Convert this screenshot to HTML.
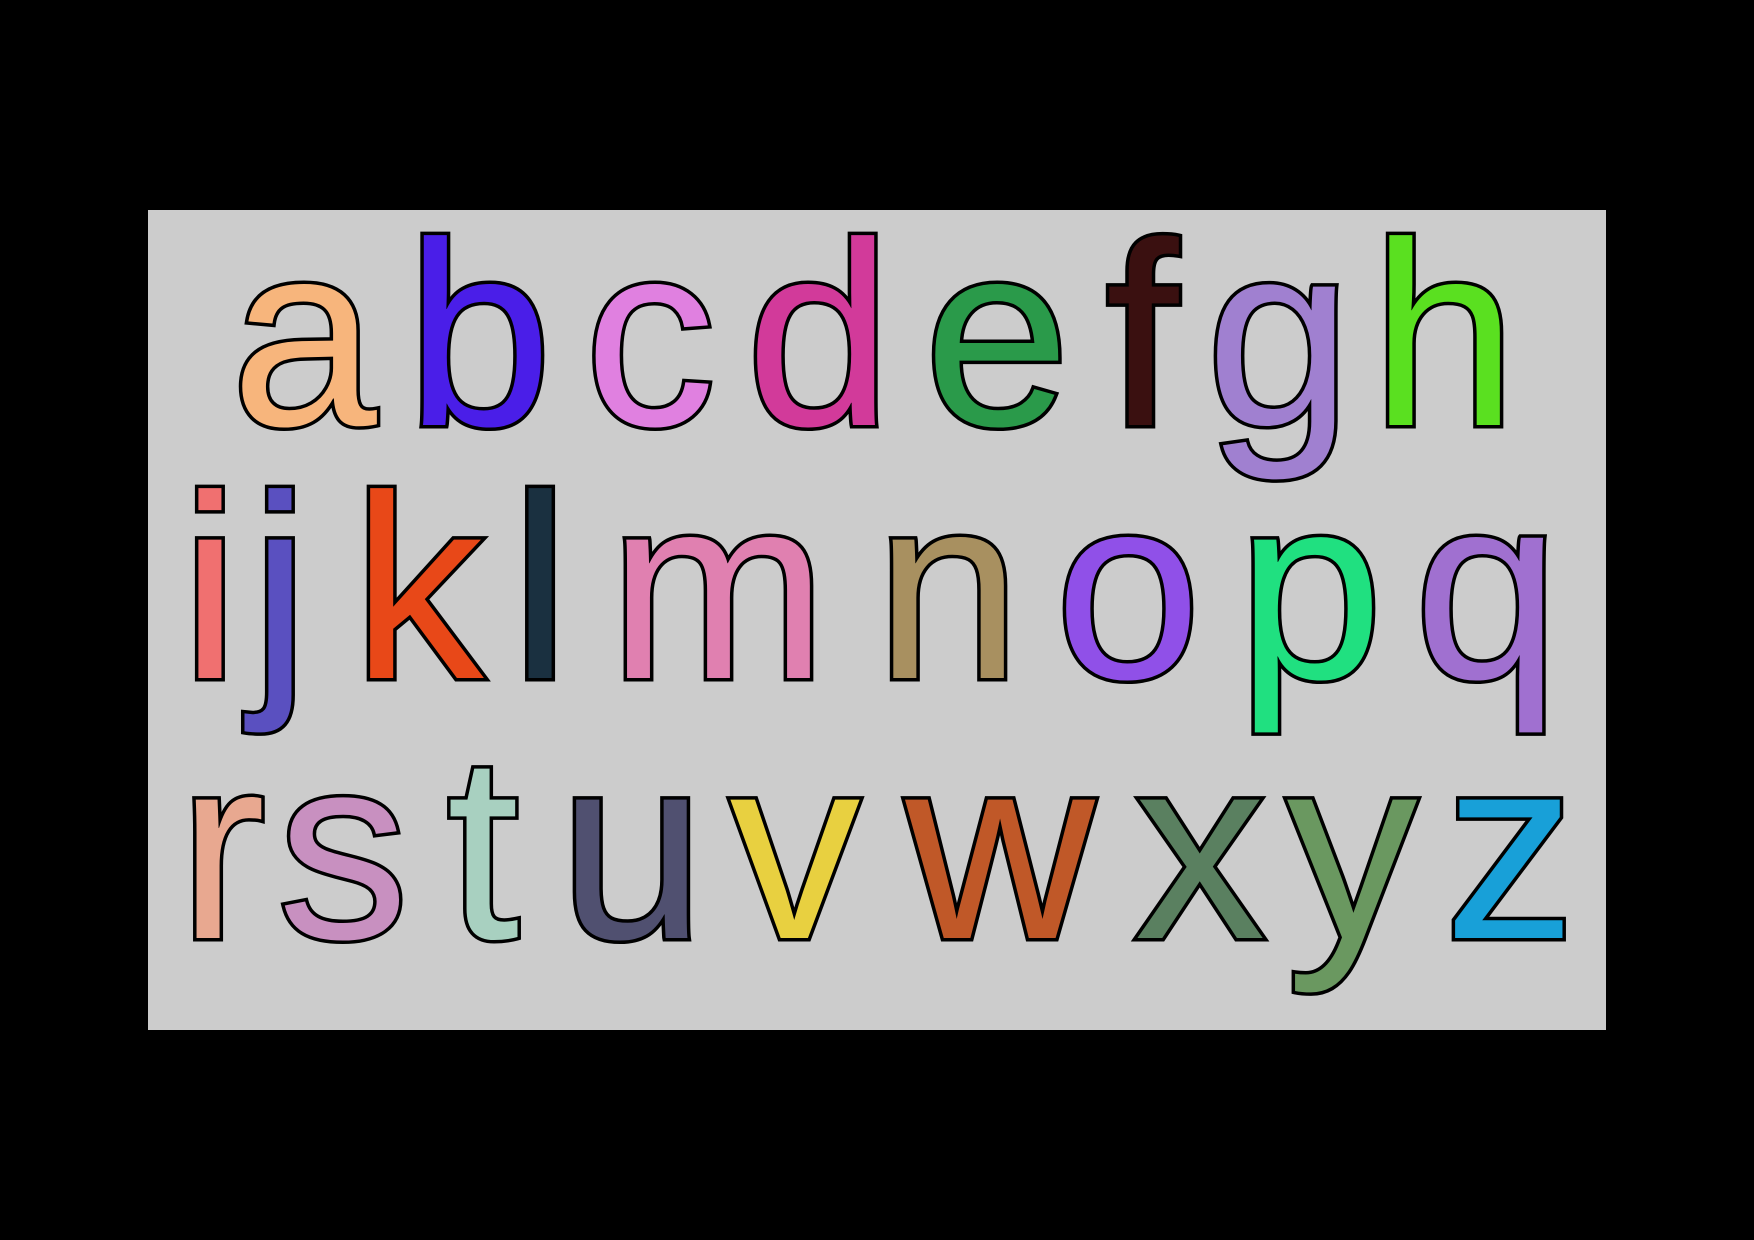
<!DOCTYPE html>
<html><head><meta charset="utf-8"><style>
html,body{margin:0;padding:0;background:#000;}
svg{display:block;}
text{font-family:"Liberation Sans",sans-serif;font-size:262px;stroke:#000;stroke-width:7px;paint-order:stroke;text-anchor:middle;}
</style></head><body>
<svg width="1754" height="1240" viewBox="0 0 1754 1240">
<rect x="0" y="0" width="1754" height="1240" fill="#000"/>
<rect x="148" y="210" width="1458" height="820" fill="#cccccc"/>
<g>
<text x="304" y="425" fill="#f7b57c">a</text>
<text x="479" y="425" fill="#4a1ee8">b</text>
<text x="650" y="425" fill="#e080e0">c</text>
<text x="819" y="425" fill="#d23a9a">d</text>
<text x="997" y="425" fill="#2a9a4a">e</text>
<text x="1142" y="425" fill="#3a1010">f</text>
<text x="1279" y="425" fill="#a080d0">g</text>
<text x="1444" y="425" fill="#5ae020">h</text>
</g>
<g>
<text x="210" y="678" fill="#f07070">i</text>
<text x="280" y="678" fill="#5a50c0">j</text>
<text x="418" y="678" fill="#e84818">k</text>
<text x="540" y="678" fill="#1a3040">l</text>
<text x="718" y="678" fill="#e080b0">m</text>
<text x="948" y="678" fill="#a89060">n</text>
<text x="1128" y="678" fill="#9050e8">o</text>
<text x="1310" y="678" fill="#20e080">p</text>
<text x="1487" y="678" fill="#a070d0">q</text>
</g>
<g>
<text x="222" y="938" fill="#e8a890">r</text>
<text x="343" y="938" fill="#c890c0">s</text>
<text x="483" y="938" fill="#a8d0c0">t</text>
<text x="632" y="938" fill="#505070">u</text>
<text x="795" y="938" fill="#e8d040">v</text>
<text x="1000" y="938" fill="#c05828">w</text>
<text x="1200" y="938" fill="#5a8060">x</text>
<text x="1352" y="938" fill="#6a9860">y</text>
<text x="1510" y="938" fill="#18a0d8">z</text>
</g>
</svg>
</body></html>
